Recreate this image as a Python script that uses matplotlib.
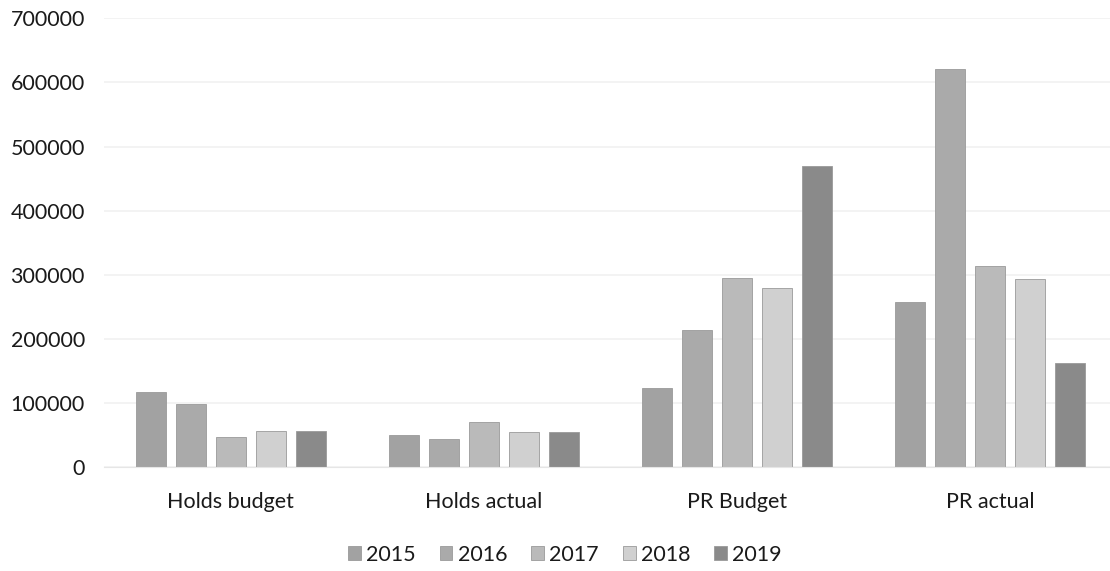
import matplotlib.pyplot as plt
import numpy as np

plt.rcParams["font.family"] = ["Lato", "DejaVu Sans"]

categories = ["Holds budget", "Holds actual", "PR Budget", "PR actual"]
years = ["2015", "2016", "2017", "2018", "2019"]
# one list per year, in the order of the categories
values = {
    "2015": [117000, 50000, 123000, 257000],
    "2016": [98000, 44000, 214000, 621000],
    "2017": [47000, 70000, 295000, 313000],
    "2018": [56000, 54000, 279000, 293000],
    "2019": [56000, 55000, 470000, 162000],
}
colors = ["#a2a2a2", "#aaaaaa", "#bababa", "#d0d0d0", "#8a8a8a"]

fig = plt.figure(figsize=(11.1, 5.71), dpi=100)
ax = fig.add_axes([0.094, 0.182, 0.912, 0.786])

x = np.arange(len(categories))
pitch = 0.158
width = 0.119
for i, (yr, col) in enumerate(zip(years, colors)):
    ax.bar(x + (i - 2) * pitch, values[yr], width, color=col, label=yr,
           edgecolor="#9a9a9a", linewidth=0.6, zorder=2)

ax.set_ylim(0, 700000)
ax.set_xlim(-0.5, len(categories) - 0.5)
ax.set_yticks(np.arange(0, 700001, 100000))
ax.yaxis.grid(True, color="#f1f1f1", linewidth=1.2, zorder=0)
ax.set_xticks(x)
ax.set_xticklabels(categories, fontsize=15.5, color="#1a1a1a")
ax.tick_params(axis="y", labelsize=15.5, labelcolor="#1a1a1a", length=0, pad=14)
ax.tick_params(axis="x", length=0, pad=18)
for s in ["top", "right", "left"]:
    ax.spines[s].set_visible(False)
ax.spines["bottom"].set_color("#e6e6e6")

ax.legend(loc="upper center", bbox_to_anchor=(0.455, -0.13), ncol=5,
          frameon=False, fontsize=15.5, handlelength=0.6, handleheight=0.6,
          handletextpad=0.25, columnspacing=1.1, labelcolor="#1a1a1a")

fig.savefig("out.png", dpi=100)
